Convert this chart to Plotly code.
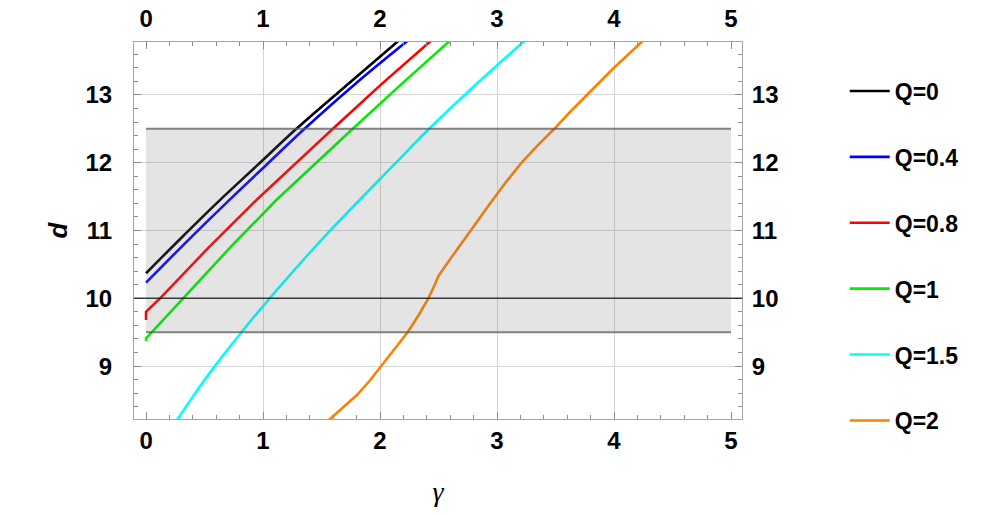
import plotly.graph_objects as go

# ---- data ----
labels = ["Q=0", "Q=0.4", "Q=0.8", "Q=1", "Q=1.5", "Q=2"]
colors = ["#000000", "#0000ff", "#ff0000", "#00ee00", "#00ffff", "#ff8000"]

gamma_Q0 = [0, 0.30, 0.62, 0.95, 1.285, 1.72, 2.20]
d_Q0 = [10.37, 10.89, 11.43, 11.96, 12.50, 13.15, 13.86]

gamma_Q04 = [0, 0.35, 0.70, 1.03, 1.355, 1.80, 2.28]
d_Q04 = [10.23, 10.84, 11.43, 11.97, 12.50, 13.18, 13.86]

gamma_Q08 = [0, 0, 0.12, 0.53, 0.944, 1.27, 1.597, 2.02, 2.47]
d_Q08 = [9.68, 9.80, 10.00, 10.74, 11.45, 11.98, 12.50, 13.17, 13.85]

gamma_Q1 = [0, 0, 0.05, 0.318, 0.72, 1.114, 1.44, 1.767, 2.19, 2.63]
d_Q1 = [9.37, 9.41, 9.50, 10.00, 10.75, 11.45, 11.98, 12.50, 13.17, 13.85]

gamma_Q15 = [0.24, 0.40, 0.588, 0.816, 1.057, 1.526, 2.137, 2.42, 2.85, 3.27]
d_Q15 = [8.14, 8.55, 9.00, 9.50, 10.00, 10.91, 12.00, 12.50, 13.20, 13.85]

gamma_Q2 = [1.52, 1.66, 1.80, 1.91, 2.009, 2.12, 2.236, 2.33, 2.413, 2.46, 2.50,
            2.58, 2.65, 2.734, 2.83, 2.933, 3.07, 3.21, 3.35, 3.49, 3.62, 3.75, 4.00, 4.28]
d_Q2 = [8.14, 8.35, 8.57, 8.78, 9.00, 9.24, 9.50, 9.75, 10.00, 10.17, 10.33,
        10.53, 10.70, 10.91, 11.14, 11.38, 11.70, 12.00, 12.26, 12.50, 12.74, 12.97, 13.40, 13.85]

band_x = [0, 5]
band_d = [9.5, 12.5]
ref_d = 10

x_range = [-0.103, 5.094]
y_range = [8.22, 13.78]
x_ticks = [0, 1, 2, 3, 4, 5]
x_grid = [1, 2, 3, 4]
y_ticks = [9, 10, 11, 12, 13]

series_x = [gamma_Q0, gamma_Q04, gamma_Q08, gamma_Q1, gamma_Q15, gamma_Q2]
series_y = [d_Q0, d_Q04, d_Q08, d_Q1, d_Q15, d_Q2]
series_shape = ["spline", "spline", "linear", "linear", "spline", "linear"]

# ---- figure ----
fig = go.Figure()
for i, (xs, ys) in enumerate(zip(series_x, series_y)):
    fig.add_trace(go.Scatter(
        x=xs, y=ys, mode="lines", name=labels[i],
        line=dict(color=colors[i], width=2.6, shape=series_shape[i], smoothing=1.0),
        legendgroup=labels[i], cliponaxis=True,
    ))

# empty helper traces so overlay axes are drawn
fig.add_trace(go.Scatter(x=[], y=[], xaxis="x2", yaxis="y2", showlegend=False, hoverinfo="skip"))
fig.add_trace(go.Scatter(x=[], y=[], xaxis="x3", yaxis="y", showlegend=False, hoverinfo="skip"))

tick_font = dict(family="Liberation Sans", size=24, color="black", weight="bold")
frame_col = "#a6a6a6"
tick_col = "#8c8c8c"

common_x = dict(range=x_range, tickvals=x_ticks, ticks="inside", ticklen=7, tickwidth=1,
                tickcolor=tick_col, showline=True, linecolor=frame_col, linewidth=1,
                showgrid=False, zeroline=False, tickfont=tick_font, automargin=False,
                minor=dict(dtick=0.2, tick0=0, ticks="inside", ticklen=4, tickcolor=tick_col, showgrid=False))
common_y = dict(range=y_range, tickvals=y_ticks, ticks="inside", ticklen=7, tickwidth=1,
                tickcolor=tick_col, showline=True, linecolor=frame_col, linewidth=1,
                zeroline=False, tickfont=tick_font, automargin=False,
                minor=dict(dtick=0.2, tick0=0, ticks="inside", ticklen=4, tickcolor=tick_col, showgrid=False))

fig.update_layout(
    width=1000, height=514,
    margin=dict(l=134, r=258, t=42, b=95, autoexpand=False),
    paper_bgcolor="white", plot_bgcolor="white",
    xaxis=dict(**common_x, side="bottom", anchor="y", ticklabelstandoff=0,
               title=dict(text="γ", standoff=28,
                          font=dict(family="Liberation Serif", size=28, color="black", style="italic"))),
    xaxis2=dict(**common_x, side="top", overlaying="x", anchor="y", ticklabelstandoff=4),
    xaxis3=dict(range=x_range, tickvals=x_grid, overlaying="x", anchor="y", showgrid=True,
                gridcolor="#d4d4d4", gridwidth=1, showticklabels=False, ticks="", showline=False,
                zeroline=False),
    yaxis=dict(**common_y, side="left", anchor="x", showgrid=True, gridcolor="#d4d4d4", gridwidth=1,
               ticklabelstandoff=16,
               title=dict(text="d", standoff=10,
                          font=dict(family="Liberation Sans", size=26, color="black",
                                    style="italic", weight="bold"))),
    yaxis2=dict(**common_y, side="right", overlaying="y", anchor="x", showgrid=False,
                ticklabelstandoff=4),
    legend=dict(x=1.169, y=0.927, xanchor="left", yanchor="top", maxheight=480,
                font=dict(family="Liberation Sans", size=23, color="black", weight="bold"),
                tracegroupgap=33, itemwidth=40, bgcolor="rgba(0,0,0,0)"),
    showlegend=True,
)

# shaded band, drawn over the curves (semi-transparent)
fig.add_shape(type="rect", xref="x", yref="y", x0=band_x[0], x1=band_x[1],
              y0=band_d[0], y1=band_d[1], fillcolor="rgba(120,120,120,0.2)",
              line=dict(width=0), layer="above")
for yv in band_d:
    fig.add_shape(type="line", xref="x", yref="y", x0=band_x[0], x1=band_x[1], y0=yv, y1=yv,
                  line=dict(color="rgba(90,90,90,0.75)", width=2), layer="above")
fig.add_shape(type="line", xref="x domain", yref="y", x0=0, x1=1, y0=ref_d, y1=ref_d,
              line=dict(color="rgba(30,30,30,0.85)", width=1.5), layer="above")

# remove the browser's default 8px body margin so the figure fills the window exactly
fig.write_html("out.html", config={"displayModeBar": False},
               post_script="document.body.style.margin='0';")
